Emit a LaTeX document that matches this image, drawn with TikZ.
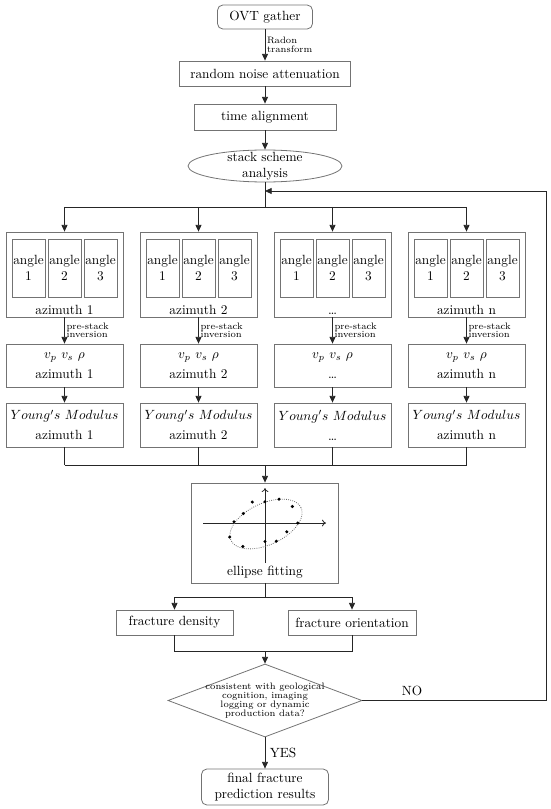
\documentclass[tikz,border=0pt]{standalone}
\usetikzlibrary{arrows.meta,shapes.geometric}
\begin{document}
\begin{tikzpicture}[x=0.75pt,y=0.75pt,yscale=-1,xscale=1,
	box/.style={draw=black!55, line width=0.6pt, rectangle, inner sep=1pt, align=center},
	rbox/.style={box, rounded corners=4pt},
	ln/.style={draw=black!85, line width=0.6pt},
	arr/.style={ln, -{Triangle[length=5pt,width=4.5pt]}},
	lbl/.style={font={\scriptsize\linespread{0.8}\selectfont}, inner sep=1.2pt, align=left},
	]
	\useasboundingbox (0,0) rectangle (550,809);
	%Shape: Rounded Rect [id:ovt] 
	\node[rbox, minimum width=71.25pt, minimum height=18pt] (ovt) at (265,17) {OVT gather};
	%Shape: Rectangle [id:rna] 
	\node[box, minimum width=128.25pt, minimum height=18.75pt] (rna) at (265,73.5) {random noise attenuation};
	%Shape: Rectangle [id:ta] 
	\node[box, minimum width=106.5pt, minimum height=19.5pt] (ta) at (265,117) {time alignment};
	%Shape: Ellipse [id:ssa] 
	\node[draw=black!55, line width=0.6pt, ellipse, inner sep=0pt, minimum width=115.5pt, minimum height=24pt,
		label={[align=center, inner sep=0pt]center:stack scheme\\analysis}] (ssa) at (265,166) {};
	\coordinate (fb) at (265,191);
	\coordinate (fbr) at (546,191);
	\coordinate (dst) at (265,207);
	\coordinate (mrg) at (265,465);
	%Straight Lines 
	\draw[arr] (ovt) -- node[lbl, right] {Radon\\transform} (rna);
	\draw[arr] (rna) -- (ta);
	\draw[arr] (ta) -- (ssa);
	\draw[ln] (ssa) -- (dst);
	% azimuth columns
	\foreach \i/\cx/\az in {1/64.5/azimuth 1, 2/198.5/azimuth 2, 3/332.5/\dots, 4/466.5/azimuth n}{
		\node[box, minimum width=87.75pt, minimum height=63.75pt,
			label={[anchor=south, inner sep=2pt]south:\az}] (az\i) at (\cx,274.5) {};
		\foreach \j/\dx in {1/-36,2/0,3/36}
			\node[box, inner sep=0pt, minimum width=24.75pt, minimum height=43.5pt] (ag\i\j) at ({\cx+\dx},268) {angle\\\j};
		\node[box, minimum width=87.75pt, minimum height=32.25pt] (vp\i) at (\cx,365.5) {$v_p\ v_s\ \rho$\\[3pt]\az};
		\node[box, minimum width=87.75pt, minimum height=33pt] (ym\i) at (\cx,425) {$Young's\ Modulus$\\[3pt]\az};
		\draw[arr] (dst -| az\i.north) -- (az\i.north);
		\draw[arr] (az\i) -- node[lbl, right] {pre-stack\\inversion} (vp\i);
		\draw[arr] (vp\i) -- (ym\i);
		\draw[ln] (ym\i) -- (ym\i.south |- mrg);
	}
	\draw[ln] (az1.north |- dst) -- (az4.north |- dst);
	\draw[ln] (ym1.south |- mrg) -- (ym4.south |- mrg);
	%Shape: Rectangle [id:fit] 
	\node[box, minimum width=110.25pt, minimum height=75pt,
		label={[anchor=south, inner sep=4pt]south:ellipse fitting}] (fit) at (265,533) {};
	\draw[arr] (mrg) -- (fit);
	% axes and fitted ellipse
	\draw[ln, -{To[length=3pt,width=5pt]}] (203,523) -- (326,523);
	\draw[ln, -{To[length=3pt,width=5pt]}] (265,563) -- (265,488);
	\draw[black!60, densely dotted, line width=0.6pt] plot[domain=0:360, samples=73, smooth]
		({266+38.6*cos(\x)*cos(25)-20.7*sin(\x)*sin(25)}, {524-38.6*cos(\x)*sin(25)-20.7*sin(\x)*cos(25)});
	\foreach \dx/\dy in {-12.7/21,0/21.3,14/23.8,27.3/16.5,-21.7/9.5,-31/1.3,32.7/0,21.8/-8.8,-35.3/-14,-22.1/-23.5,0/-18.5,11.3/-18.2}
		\fill ({265+\dx},{523-\dy}) circle (1.7);
	%Shape: Rectangle [id:fd] 
	\node[box, minimum width=87.75pt, minimum height=18.75pt] (fd) at (174.5,622.5) {fracture density};
	%Shape: Rectangle [id:fo] 
	\node[box, minimum width=96pt, minimum height=18.75pt] (fo) at (352,622.5) {fracture orientation};
	\coordinate (spl) at (265,597);
	\coordinate (jn) at (265,651);
	\draw[ln] (fit) -- (spl);
	\draw[ln] (fd.north |- spl) -- (fo.north |- spl);
	\draw[arr] (fd.north |- spl) -- (fd);
	\draw[arr] (fo.north |- spl) -- (fo);
	\draw[ln] (fd) -- (fd.south |- jn) -- (fo.south |- jn) -- (fo);
	%Shape: Diamond [id:chk] 
	\node[draw=black!55, line width=0.6pt, diamond, inner sep=0pt, minimum width=145.5pt, minimum height=54.75pt,
		label={[align=center, inner sep=0pt, font={\scriptsize\linespread{0.85}\selectfont}]center:consistent with geological\\cognition, imaging\\logging or dynamic\\production data?}] (chk) at (265,700.5) {};
	\draw[arr] (jn) -- (chk);
	%Shape: Rounded Rect [id:fin] 
	\node[rbox, minimum width=95.25pt, minimum height=27pt] (fin) at (265,787) {final fracture\\prediction results};
	\draw[arr] (chk) -- node[right] {YES} (fin);
	\draw[arr] (chk.east) -- node[above, pos=0.27] {NO} (chk.east -| fbr) -- (fbr) -- (fb);
\end{tikzpicture}
\end{document}
